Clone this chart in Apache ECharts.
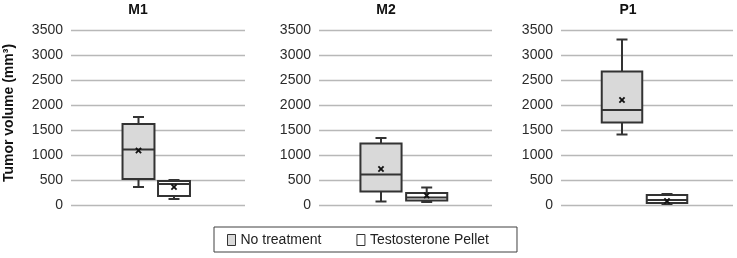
<!DOCTYPE html>
<html><head><meta charset="utf-8">
<script src="https://cdn.jsdelivr.net/npm/echarts@6/dist/echarts.min.js"></script>
<style>html,body{margin:0;padding:0;background:#fff}#c{width:737px;height:258px}</style>
</head><body><div id="c"></div>
<script>
// ---- data ----
const panelNames = ['M1', 'M2', 'P1'];
const groupNames = ['No treatment', 'Testosterone Pellet'];
const yMin = 0, yMax = 3500, yInterval = 500;
const yAxisTitle = 'Tumor volume (mm³)';
// [min, Q1, median, Q3, max] for each panel
const noTreatmentStats = [
  [360, 520, 1110, 1620, 1760],
  [70, 270, 610, 1230, 1340],
  [1410, 1650, 1900, 2670, 3310]
];
const noTreatmentMeans = [1090, 720, 2100];
const pelletStats = [
  [120, 180, 420, 480, 500],
  [60, 90, 150, 240, 350],
  [20, 40, 100, 200, 220]
];
const pelletMeans = [360, 190, 80];

// ---- layout / style ----
const gridTop = 30, gridHeight = 175;
const panelGrids = [{left: 71, width: 174}, {left: 319, width: 173}, {left: 561, width: 172}];
const boxGrids = [{left: 120.75, width: 71}, {left: 358.15, width: 91.4}, {left: 599.5, width: 90}];
const titleCenters = [138, 386, 628];
const strokeColor = '#333333';
const fills = ['#d9d9d9', '#ffffff'];
const labelColor = '#2b2b2b';
const fontFamily = 'Arial, "Liberation Sans", sans-serif';

function renderBox(params, api) {
  const cat = api.value(0);
  const v = [1, 2, 3, 4, 5, 6].map(i => api.value(i));
  const pts = v.map(val => api.coord([cat, val]));
  const cx = pts[0][0];
  const band = api.size([1, 0])[0];
  const hw = band * 0.45;
  const cap = 5.5;
  const fill = params.seriesName === groupNames[0] ? fills[0] : fills[1];
  const lw = 2;
  const lineStyle = {stroke: strokeColor, lineWidth: lw, fill: null};
  const yMinP = pts[0][1], yQ1 = pts[1][1], yMed = pts[2][1], yQ3 = pts[3][1], yMaxP = pts[4][1], yMean = pts[5][1];
  const m = 2.6;
  return {
    type: 'group',
    children: [
      {type: 'line', shape: {x1: cx, y1: yQ3, x2: cx, y2: yMaxP}, style: lineStyle},
      {type: 'line', shape: {x1: cx - cap, y1: yMaxP, x2: cx + cap, y2: yMaxP}, style: lineStyle},
      {type: 'line', shape: {x1: cx, y1: yQ1, x2: cx, y2: yMinP}, style: lineStyle},
      {type: 'line', shape: {x1: cx - cap, y1: yMinP, x2: cx + cap, y2: yMinP}, style: lineStyle},
      {type: 'rect', shape: {x: cx - hw, y: yQ3, width: 2 * hw, height: yQ1 - yQ3},
        style: {fill: fill, stroke: strokeColor, lineWidth: lw}},
      {type: 'line', shape: {x1: cx - hw, y1: yMed, x2: cx + hw, y2: yMed}, style: lineStyle},
      {type: 'line', shape: {x1: cx - m, y1: yMean - m, x2: cx + m, y2: yMean + m}, style: {stroke: '#111', lineWidth: 1.8}},
      {type: 'line', shape: {x1: cx - m, y1: yMean + m, x2: cx + m, y2: yMean - m}, style: {stroke: '#111', lineWidth: 1.8}}
    ]
  };
}

const grids = [], xAxes = [], yAxes = [], series = [], titles = [];
panelNames.forEach((name, p) => {
  // main grid with gridlines and labels
  grids.push({left: panelGrids[p].left, width: panelGrids[p].width, top: gridTop, height: gridHeight});
  xAxes.push({type: 'category', gridIndex: 2 * p, data: [name], show: false});
  yAxes.push({
    type: 'value', gridIndex: 2 * p, min: yMin, max: yMax, interval: yInterval,
    axisLine: {show: false}, axisTick: {show: false},
    axisLabel: {color: labelColor, fontSize: 14, fontFamily: fontFamily, margin: 8, formatter: v => String(v)},
    splitLine: {lineStyle: {color: '#b8b8b8', width: 1.3}}
  });
  // box grid overlay
  grids.push({left: boxGrids[p].left, width: boxGrids[p].width, top: gridTop, height: gridHeight});
  xAxes.push({type: 'category', gridIndex: 2 * p + 1, data: groupNames, show: false, boundaryGap: true});
  yAxes.push({type: 'value', gridIndex: 2 * p + 1, min: yMin, max: yMax, interval: yInterval, show: false, splitLine: {show: false}});
  const statsSets = [noTreatmentStats, pelletStats];
  const meanSets = [noTreatmentMeans, pelletMeans];
  groupNames.forEach((g, gi) => {
    series.push({
      type: 'custom', name: g, xAxisIndex: 2 * p + 1, yAxisIndex: 2 * p + 1,
      renderItem: renderBox,
      itemStyle: {color: fills[gi], borderColor: strokeColor, borderWidth: 1},
      encode: {x: 0, y: [1, 2, 3, 4, 5, 6]},
      data: [[g].concat(statsSets[gi][p], [meanSets[gi][p]])],
      z: 3
    });
  });
  titles.push({
    text: name, left: titleCenters[p], top: 3, textAlign: 'center', padding: 0,
    textStyle: {fontSize: 14, fontWeight: 'bold', color: '#111', fontFamily: fontFamily}
  });
});

const chart = echarts.init(document.getElementById('c'), null, {renderer: 'canvas'});
chart.setOption({
  animation: false,
  backgroundColor: '#fff',
  title: titles,
  grid: grids,
  xAxis: xAxes,
  yAxis: yAxes,
  series: series,
  legend: {
    left: 214, top: 227,
    padding: [6, 28, 5, 13],
    borderColor: '#404040', borderWidth: 1,
    itemWidth: 8, itemHeight: 11, itemGap: 35,
    textStyle: {fontSize: 14, color: '#222', fontFamily: fontFamily},
    data: [
      {name: groupNames[0], icon: 'rect', itemStyle: {color: fills[0], borderColor: strokeColor, borderWidth: 1}},
      {name: groupNames[1], icon: 'rect', itemStyle: {color: fills[1], borderColor: strokeColor, borderWidth: 1}}
    ]
  },
  graphic: [{
    type: 'text', x: 9, y: 113, rotation: Math.PI / 2,
    style: {text: yAxisTitle, fontSize: 14, fontWeight: 'bold', fill: '#111', fontFamily: fontFamily,
      align: 'center', verticalAlign: 'middle'}
  }]
});
</script></body></html>
